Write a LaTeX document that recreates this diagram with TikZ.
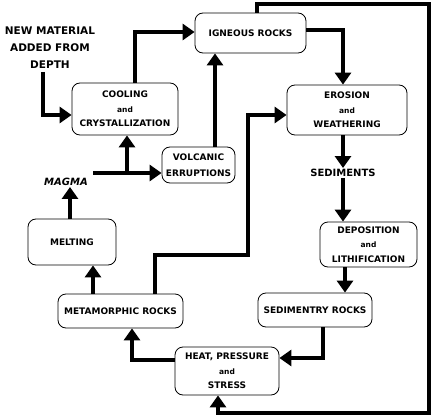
\documentclass[tikz,border=0pt]{standalone}
\usepackage{fontspec}
\setmainfont{DejaVu Sans}
\usetikzlibrary{arrows.meta}
\newcommand{\smalland}{{\fontsize{7.5}{7.5}\selectfont and}}
\begin{document}
\begin{tikzpicture}[x=1pt,y=-1pt,
  box/.style={draw, line width=0.8pt, rounded corners=8pt, fill=white, align=center, inner sep=0pt, font=\bfseries\fontsize{9}{14.5}\selectfont},
  lbl/.style={align=center, inner sep=1pt, font=\bfseries\fontsize{10}{17}\selectfont},
  arr/.style={line width=4.5pt, line join=miter, -{Triangle[length=12pt,width=16pt]}}
]
\fill[white] (0,0) rectangle (439,420);
\useasboundingbox (0,0) rectangle (439,420);

% boxes
\node[box, minimum width=111pt, minimum height=40pt] (ign) at (250.5,33) {IGNEOUS ROCKS};
\node[box, minimum width=106pt, minimum height=52pt] (cool) at (125,109) {COOLING\\\smalland\\CRYSTALLIZATION};
\node[box, minimum width=73pt, minimum height=36pt, font=\bfseries\fontsize{9}{16}\selectfont] (volc) at (198.5,165) {VOLCANIC\\ERRUPTIONS};
\node[box, minimum width=120pt, minimum height=50pt] (eros) at (347,110) {EROSION\\\smalland\\WEATHERING};
\node[box, minimum width=97pt, minimum height=45pt] (depo) at (368.5,244.5) {DEPOSITION\\\smalland\\LITHIFICATION};
\node[box, minimum width=114pt, minimum height=34pt] (sedr) at (315,310) {SEDIMENTRY ROCKS};
\node[box, minimum width=104pt, minimum height=48pt] (heat) at (227,371) {HEAT, PRESSURE\\\smalland\\STRESS};
\node[box, minimum width=125pt, minimum height=34pt] (meta) at (120.5,311) {METAMORPHIC ROCKS};
\node[box, minimum width=88pt, minimum height=46pt] (melt) at (72,242) {MELTING};

% free labels
\node[lbl] (sed) at (343,173) {SEDIMENTS};
\node[lbl, font=\bfseries\itshape\fontsize{10}{12}\selectfont] (magma) at (66,182) {MAGMA};
\node[lbl, font=\bfseries\fontsize{10.5}{17}\selectfont] (newmat) at (50,48) {NEW MATERIAL\\ADDED FROM\\DEPTH};

% helper coordinates
\coordinate (nmS) at (43,72);
\coordinate (mgR) at (93,173);
\coordinate (br) at (127,173);
\coordinate (vt) at ([xshift=16.5pt]volc.north);
\coordinate (ds) at ([xshift=-23.5pt]depo.south);
\coordinate (ss) at ([xshift=8pt]sedr.south);
\coordinate (mn1) at ([xshift=-27.5pt]meta.north);
\coordinate (mn2) at ([xshift=34.5pt]meta.north);
\coordinate (bend1) at (248,255);
\coordinate (mt) at ([xshift=-2pt]melt.north);
\coordinate (it) at ([xshift=6.5pt]ign.north);
\coordinate (c1) at (429,4);
\coordinate (c2) at (429,413);
\coordinate (hb) at ([xshift=-9pt]heat.south);

% connectors
\draw[arr] (nmS) |- ([yshift=-6pt]cool.west);
\draw[arr] ([xshift=10pt]cool.north) |- ([yshift=1pt]ign.west);
\draw[arr] (mgR) -- (mgR -| volc.west);
\draw[arr] (br) -- (br |- cool.south);
\draw[arr] (vt) -- (vt |- ign.south);
\draw[arr] ([yshift=3pt]ign.east) -| ([xshift=-4pt]eros.north);
\draw[arr] ([xshift=-4pt]eros.south) -- (sed.north);
\draw[arr] (sed.south) -- (sed.south |- depo.north);
\draw[arr] (ds) -- (ds |- sedr.north);
\draw[arr] (ss) |- ([yshift=13pt]heat.east);
\draw[arr] ([yshift=11pt]heat.west) -| ([xshift=11.5pt]meta.south);
\draw[arr] (mn1) -- (mn1 |- melt.south);
\draw[arr] (mt) -- (mt |- magma.south);
\draw[arr] (mn2) |- (bend1) |- ([yshift=-5pt]eros.west);
\draw[arr] (it) |- (c1) -- (c2) -| (hb);
\end{tikzpicture}
\end{document}
